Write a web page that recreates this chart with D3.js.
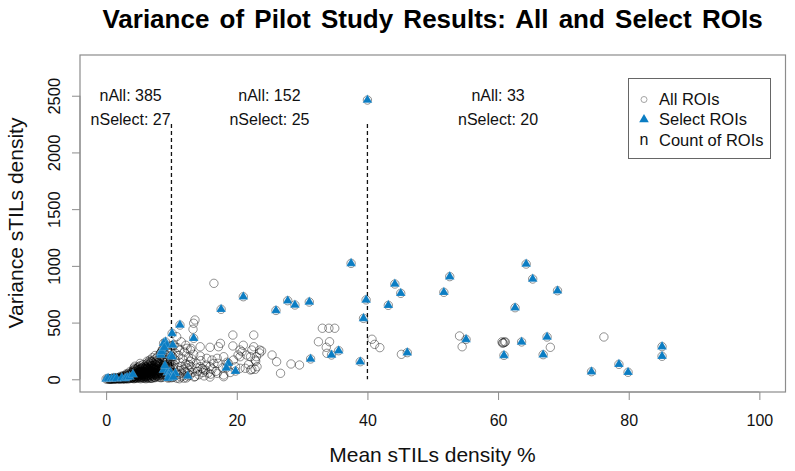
<!DOCTYPE html>
<html>
<head>
<meta charset="utf-8">
<script src="https://cdn.jsdelivr.net/npm/d3@7"></script>
<style>
html,body{margin:0;padding:0;background:#fff;}
svg{display:block;font-family:"Liberation Sans",Arial,sans-serif;}
</style>
</head>
<body>
<svg id="chart" width="795" height="471"></svg>
<script>
// ---------- data ----------
const chartTitle = "Variance of Pilot Study Results: All and Select ROIs";
const xLabel = "Mean sTILs density %";
const yLabel = "Variance sTILs density";
const xTicks = [0, 20, 40, 60, 80, 100];
const yTicks = [0, 500, 1000, 1500, 2000, 2500];
const cutoffs = [10, 40];
const groupLabelX = [3.75, 25, 60];
const groupNAll = [385, 152, 33];
const groupNSelect = [27, 25, 20];
const legendLabels = ["All ROIs", "Select ROIs", "Count of ROIs"];

// Select ROIs [mean, variance]
const selectLow = [[0,3],[0.3,8],[0.8,4],[1.2,10],[1.6,6],[2.4,12],[2.9,8],[3.2,16],[3.6,22],[4.1,42],[8.6,260],[8.3,228],[9.1,330],[9.0,95],[8.4,214],[8.5,243],[8.8,317],[9.3,302],[8.8,82],[9.4,60],[9.8,67],[9.6,35],[9.9,14],[9.0,120],[9.9,210],[8.9,280],[9.5,10]];
const selectMid = [[10.1,405],[10.2,302],[10.1,199],[11.3,478],[13.4,361],[10.6,53],[10.3,20],[12.5,29],[17.6,617],[21.0,728],[18.7,141],[18.4,100],[19.8,72],[26.0,607],[27.8,693],[28.9,655],[31.1,681],[31.3,179],[34.5,214],[35.6,252],[37.5,1022],[38.9,155],[39.4,537],[39.8,700],[40.0,2462]];
const selectHigh = [[43.2,652],[44.2,840],[45.1,758],[46.1,235],[51.7,767],[52.6,905],[55.1,352],[60.9,211],[62.6,631],[63.6,329],[64.3,1016],[65.3,884],[66.9,217],[67.5,373],[69.1,781],[74.3,67],[78.5,132],[79.9,62],[85.1,288],[85.1,203]];

// Other (non-select) ROIs [mean, variance]
const otherLow = [
[0.2,1],[0.4,3],[0.5,2],[0.7,4],[0.8,1],[0.9,6],[1.0,3],[1.1,8],[1.3,5],[1.4,2],[1.5,9],[1.6,4],[1.7,12],[1.8,7],[1.9,3],[1.2,1],[0.6,0],[1.5,15],[1.9,10],[1.0,11],
[2.0,5],[2.1,14],[2.2,8],[2.3,20],[2.4,3],[2.5,11],[2.6,17],[2.7,6],[2.8,24],[2.9,13],[3.0,9],[3.1,30],[3.2,18],[3.3,4],[3.4,26],[3.5,12],[3.6,35],[3.7,21],[3.8,8],[3.9,40],[2.2,26],[2.6,32],[2.9,2],[3.1,15],[3.3,45],[3.5,28],[3.7,52],[3.9,18],[2.4,9],[2.7,19],[3.0,38],[3.2,7],[3.4,33],[3.6,14],[3.8,60],[2.1,2],[2.5,22],[2.8,10],[3.0,27],[3.3,22],[3.5,5],[3.7,42],[3.9,30],[2.3,12],[2.6,4],[3.1,48],[3.4,16],[3.6,66],[3.8,25],[3.95,10],
[4.0,12],[4.05,35],[4.1,58],[4.15,22],[4.2,80],[4.25,5],[4.3,44],[4.35,28],[4.4,66],[4.45,15],[4.5,92],[4.55,38],[4.6,8],[4.65,54],[4.7,25],[4.75,72],[4.8,42],[4.85,18],[4.9,105],[4.95,60],
[5.0,30],[5.05,85],[5.1,10],[5.15,48],[5.2,120],[5.25,36],[5.3,68],[5.35,20],[5.4,95],[5.45,52],[5.5,14],[5.55,78],[5.6,40],[5.65,130],[5.7,26],[5.75,62],[5.8,88],[5.85,45],[5.9,8],[5.95,70],
[4.1,40],[4.2,18],[4.3,90],[4.4,32],[4.5,55],[4.6,75],[4.7,12],[4.8,64],[4.9,36],[5.0,110],[5.1,58],[5.2,22],[5.3,84],[5.4,44],[5.5,100],[5.6,64],[5.7,34],[5.8,115],[5.9,52],[6.0,24],
[4.15,70],[4.35,50],[4.55,25],[4.75,48],[4.95,82],[5.15,72],[5.35,38],[5.55,58],[5.75,96],[5.95,34],[4.25,100],[4.45,44],[4.65,88],[4.85,58],[5.05,40],[5.25,92],[5.45,70],[5.65,48],[5.85,20],[4.05,20],
[4.3,8],[4.5,20],[4.7,35],[4.9,15],[5.1,28],[5.3,5],[5.5,32],[5.7,12],[5.9,38],[4.4,115],[4.8,95],[5.2,140],[5.6,105],[6.0,82],[4.6,42],[5.0,60],[5.4,18],[5.8,66],[4.2,65],[5.95,100],
[6.0,45],[6.05,110],[6.1,18],[6.15,75],[6.2,135],[6.25,40],[6.3,92],[6.35,12],[6.4,60],[6.45,150],[6.5,30],[6.55,85],[6.6,115],[6.65,50],[6.7,20],[6.75,100],[6.8,68],[6.85,160],[6.9,38],[6.95,125],
[7.0,8],[7.05,80],[7.1,55],[7.15,140],[7.2,28],[7.25,95],[7.3,170],[7.35,62],[7.4,110],[7.45,42],[7.5,15],[7.55,130],[7.6,75],[7.65,185],[7.7,48],[7.75,102],[7.8,25],[7.85,145],[7.9,68],[7.95,120],
[6.1,95],[6.2,62],[6.3,30],[6.4,120],[6.5,72],[6.6,8],[6.7,140],[6.8,44],[6.9,90],[7.0,118],[7.1,34],[7.2,72],[7.3,105],[7.4,15],[7.5,88],[7.6,155],[7.7,32],[7.8,92],[7.9,200],[8.0,55],
[6.05,25],[6.25,105],[6.45,55],[6.65,82],[6.85,22],[7.05,150],[7.25,48],[7.45,128],[7.65,58],[7.85,36],[6.15,48],[6.35,78],[6.55,42],[6.75,60],[6.95,70],[7.15,98],[7.35,20],[7.55,52],[7.75,165],[7.95,82],
[6.2,90],[6.4,35],[6.6,100],[6.8,115],[7.0,52],[7.2,122],[7.4,78],[7.6,40],[7.8,60],[6.3,160],[6.7,170],[7.1,190],[7.5,210],[7.9,150],[6.5,130],[6.9,10],[7.3,40],[7.7,125],[6.1,5],[7.0,95],
[6.35,100],[6.75,35],[7.15,65],[7.55,100],[7.95,45],[6.55,65],[6.95,155],[7.35,88],[7.75,72],[6.45,18],
[8.0,20],[8.05,110],[8.1,65],[8.15,180],[8.2,35],[8.25,140],[8.3,90],[8.35,230],[8.4,50],[8.45,125],[8.5,15],[8.55,170],[8.6,75],[8.65,260],[8.7,40],[8.75,115],[8.8,195],[8.85,60],[8.9,145],[8.95,28],
[9.0,100],[9.05,220],[9.1,55],[9.15,160],[9.2,85],[9.25,290],[9.3,35],[9.35,130],[9.4,240],[9.45,70],[9.5,180],[9.55,22],[9.6,115],[9.65,205],[9.7,48],[9.75,150],[9.8,88],[9.85,270],[9.9,30],[9.95,125],
[8.1,135],[8.3,15],[8.5,95],[8.7,160],[8.9,80],[9.1,120],[9.3,190],[9.5,62],[9.7,95],[9.9,170],[8.2,75],[8.4,200],[8.6,30],[8.8,130],[9.0,45],[9.2,150],[9.4,18],[9.6,68],[9.8,230],[8.0,85],
[8.15,50],[8.45,80],[8.75,20],[9.05,75],[9.35,95],[9.65,140],[9.95,60],[8.25,100],[8.55,45],[8.85,100],[9.15,30],[9.45,110],[9.75,40],[8.65,120],[9.25,60],[9.85,105],[8.35,60],[8.95,165]];
const otherMid = [
[10.8,376],[13.6,523],[13.4,494],[13.3,441],[16.5,846],[19.4,390],[22.6,390],[17.5,317],[17.2,287],[15.9,282],[19.4,294],[21.0,300],[22.3,258],[23.5,258],[23.5,232],[20.8,243],[20.5,199],[22.1,199],[22.8,170],[25.4,214],[26.1,155],[26.7,53],[21.3,97],[22.3,88],[22.8,88],[18.0,199],[17.0,185],[16.2,170],[14.4,205],[12.4,273],[13.0,273],[14.4,111],[15.2,82],[17.0,53],[18.0,23],[20.5,97],[23.1,111],[19.8,111],[28.3,135],[29.6,126],[32.5,331],[33.1,450],[34.1,450],[35.0,450],[34.2,331],[33.7,282],[33.8,229],[14.4,287],[12.9,258],[11.3,258],[15.4,185],[17.1,141],[15.9,111],[14.9,82],[18.0,38],[22.1,82],[22.9,160],[20.5,258],[20.2,214],[21.5,214],[23.0,199],[22.6,287],[23.8,250],[18.5,150],[19.0,60],[21.8,130],
[10.1,15],[10.2,45],[10.3,90],[10.4,130],[10.5,25],[10.6,170],[10.7,60],[10.8,10],[10.9,105],[11.0,40],[11.1,210],[11.2,75],[11.3,150],[11.4,20],[11.5,115],[11.6,55],[11.7,180],[11.8,30],[11.9,90],[12.0,240],
[12.1,65],[12.2,135],[12.3,12],[12.4,100],[12.5,50],[12.6,195],[12.7,80],[12.8,35],[12.9,160],[13.0,110],[13.2,60],[13.4,220],[13.6,25],[13.8,140],[14.0,70],[14.2,40],[14.5,165],[14.7,95],[15.0,30],[15.3,125],
[15.6,55],[15.9,20],[16.2,90],[16.5,140],[16.8,70],[10.4,300],[10.9,280],[11.5,330],[12.2,300],[10.6,230],[11.9,10],[13.1,180],[13.9,100],[14.8,60],[10.2,200],[11.2,5],[12.7,130],[13.5,20],[16.0,45],[17.8,100],[19.5,170]];
const otherHigh = [[40.7,353],[41.1,308],[41.9,279],[45.2,220],[54.1,382],[54.5,287],[60.6,330],[60.8,322],[61.0,326],[60.7,318],[61.1,330],[68.0,282],[76.2,373]];

// ---------- drawing ----------
const svg = d3.select("#chart");
const x = d3.scaleLinear().domain([-4, 104]).range([80, 785.5]);
const y = d3.scaleLinear().domain([-112, 2859]).range([392, 55]);

const selectAll = selectLow.concat(selectMid, selectHigh);
const allRois = otherLow.concat(otherMid, otherHigh, selectAll);

// title
svg.append("text").attr("x", 432.5).attr("y", 27.5).attr("text-anchor", "middle")
  .attr("font-size", 26).attr("font-weight", "bold").style("word-spacing", "3px").attr("fill", "#000").text(chartTitle);

// box
svg.append("rect").attr("x", x(-4)).attr("y", y(2859)).attr("width", x(104) - x(-4)).attr("height", y(-112) - y(2859))
  .attr("fill", "none").attr("stroke", "#8c8c8c").attr("stroke-width", 1.2);

// axes
const xAxis = svg.append("g").attr("transform", `translate(0,${y(-112)})`)
  .call(d3.axisBottom(x).tickValues(xTicks).tickSize(8).tickPadding(0).tickFormat(d3.format("d")));
xAxis.select(".domain").attr("d", `M${x(0)},0H${x(100)}`).attr("stroke", "#8c8c8c");
xAxis.selectAll(".tick line").attr("stroke", "#8c8c8c");
xAxis.selectAll(".tick text").attr("font-size", 16).attr("font-family", "Liberation Sans, Arial, sans-serif")
  .attr("fill", "#111").attr("dy", null).attr("y", 426 - 392);

const yAxis = svg.append("g").attr("transform", `translate(${x(-4)},0)`)
  .call(d3.axisLeft(y).tickValues(yTicks).tickSize(8).tickFormat(d3.format("d")));
yAxis.select(".domain").attr("d", `M0,${y(0)}V${y(2500)}`).attr("stroke", "#8c8c8c");
yAxis.selectAll(".tick line").attr("stroke", "#8c8c8c");
yAxis.selectAll(".tick text").attr("font-size", 16.5).attr("font-family", "Liberation Sans, Arial, sans-serif")
  .attr("fill", "#111").attr("x", null).attr("dy", null).attr("text-anchor", "middle")
  .attr("transform", `translate(${59.5 - 80},0) rotate(-90)`);

// axis labels
svg.append("text").attr("x", 432.5).attr("y", 462).attr("text-anchor", "middle").attr("font-size", 21).attr("fill", "#111").text(xLabel);
svg.append("text").attr("transform", `translate(23,223) rotate(-90)`).attr("text-anchor", "middle").attr("font-size", 21).attr("fill", "#111").text(yLabel);

// cutoff lines
svg.append("g").selectAll("line").data(cutoffs).join("line")
  .attr("x1", d => x(d)).attr("x2", d => x(d)).attr("y1", y(2250)).attr("y2", y(0))
  .attr("stroke", "#111").attr("stroke-width", 1.3).attr("stroke-dasharray", "4,3");

// group counts
const gl = svg.append("g").attr("font-size", 16).attr("fill", "#111").attr("text-anchor", "middle");
gl.selectAll("text.na").data(groupLabelX).join("text").attr("class", "na")
  .attr("x", d => x(d)).attr("y", y(2500)).attr("dy", "0.36em").text((d, i) => "nAll: " + groupNAll[i]);
gl.selectAll("text.ns").data(groupLabelX).join("text").attr("class", "ns")
  .attr("x", d => x(d)).attr("y", y(2292)).attr("dy", "0.36em").text((d, i) => "nSelect: " + groupNSelect[i]);

// all ROIs (circles)
svg.append("g").selectAll("circle").data(allRois).join("circle")
  .attr("cx", d => x(d[0])).attr("cy", d => y(d[1])).attr("r", 4.2)
  .attr("fill", "none").attr("stroke", "rgba(0,0,0,0.48)").attr("stroke-width", 0.9);

// select ROIs (triangles)
const tri = d3.symbol().type(d3.symbolTriangle).size(40);
svg.append("g").selectAll("path").data(selectAll).join("path")
  .attr("transform", d => `translate(${x(d[0])},${y(d[1])})`).attr("d", tri)
  .attr("fill", "#0b7dc3").attr("stroke", "rgba(255,255,255,0.35)").attr("stroke-width", 0.5);

// legend
const lg = svg.append("g");
lg.append("rect").attr("x", 628.5).attr("y", 78.5).attr("width", 142).attr("height", 80)
  .attr("fill", "#fff").attr("stroke", "#666").attr("stroke-width", 1);
lg.append("circle").attr("cx", 644).attr("cy", 99.5).attr("r", 3).attr("fill", "none").attr("stroke", "#999").attr("stroke-width", 0.9);
lg.append("path").attr("transform", "translate(644,119.5)").attr("d", tri).attr("fill", "#0b7dc3");
lg.append("text").attr("x", 644).attr("y", 145).attr("text-anchor", "middle").attr("font-size", 16).attr("fill", "#111").text("n");
lg.selectAll("text.lab").data(legendLabels).join("text").attr("class", "lab")
  .attr("x", 659).attr("y", (d, i) => 105 + i * 20.3).attr("font-size", 16.5).attr("fill", "#111").text(d => d);
</script>
</body>
</html>
